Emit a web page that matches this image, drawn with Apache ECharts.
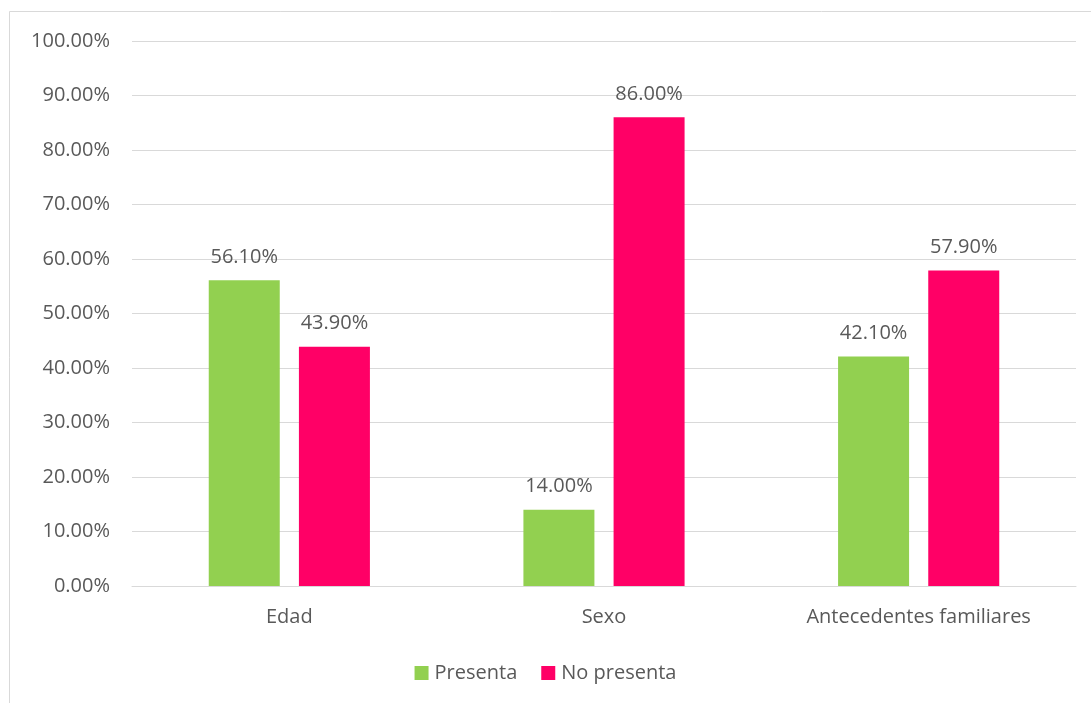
<!DOCTYPE html>
<html>
<head>
<meta charset="utf-8">
<script src="https://cdn.jsdelivr.net/npm/echarts@6/dist/echarts.min.js"></script>
<style>
    html, body { margin: 0; padding: 0; background: #fff; }
    #chart { width: 1091px; height: 703px; }
</style>
</head>
<body>
<div id="chart"></div>
<script>
var categories = ['Edad', 'Sexo', 'Antecedentes familiares'];
var presenta = [56.1, 14.0, 42.1];
var noPresenta = [43.9, 86.0, 57.9];
var seriesNames = ['Presenta', 'No presenta'];

var textColor = '#595959';
var fontFamily = '"Open Sans", "Liberation Sans", sans-serif';
var fontSize = 20;

function pct(v) {
    return v.toFixed(2) + '%';
}

var chart = echarts.init(document.getElementById('chart'));
var option = {
    backgroundColor: '#fff',
    textStyle: { fontFamily: fontFamily, color: textColor },
    graphic: [{
        type: 'rect',
        shape: { x: 9.5, y: 11.5, width: 1200, height: 800 },
        style: { fill: 'none', stroke: '#d9d9d9', lineWidth: 1 },
        silent: true
    }],
    legend: {
        data: seriesNames,
        bottom: 15,
        left: 'center',
        itemWidth: 14,
        itemHeight: 14,
        itemGap: 24,
        icon: 'rect',
        textStyle: { fontSize: fontSize, color: textColor, fontFamily: fontFamily, padding: [0, 0, 0, 1] }
    },
    grid: {
        top: 41,
        left: 132,
        right: 15,
        bottom: 117
    },
    xAxis: {
        type: 'category',
        data: categories,
        axisLine: { lineStyle: { color: '#d9d9d9', width: 1 } },
        axisTick: { show: false },
        axisLabel: { fontSize: fontSize, color: textColor, margin: 21, fontFamily: fontFamily }
    },
    yAxis: {
        type: 'value',
        min: 0,
        max: 100,
        interval: 10,
        axisLine: { show: false },
        axisTick: { show: false },
        splitLine: { lineStyle: { color: '#d9d9d9', width: 1 } },
        axisLabel: {
            fontSize: fontSize,
            color: textColor,
            margin: 22,
            fontFamily: fontFamily,
            formatter: function (v) { return pct(v); }
        }
    },
    series: [{
        name: seriesNames[0],
        type: 'bar',
        data: presenta,
        barWidth: 71,
        barGap: '27%',
        itemStyle: { color: '#92D050' },
        label: {
            show: true,
            position: 'top',
            distance: 13,
            fontSize: fontSize,
            color: textColor,
            fontFamily: fontFamily,
            formatter: function (p) { return pct(p.value); }
        }
    }, {
        name: seriesNames[1],
        type: 'bar',
        data: noPresenta,
        barWidth: 71,
        itemStyle: { color: '#FF0066' },
        label: {
            show: true,
            position: 'top',
            distance: 13,
            fontSize: fontSize,
            color: textColor,
            fontFamily: fontFamily,
            formatter: function (p) { return pct(p.value); }
        }
    }]
};
chart.setOption(option);
</script>
</body>
</html>
